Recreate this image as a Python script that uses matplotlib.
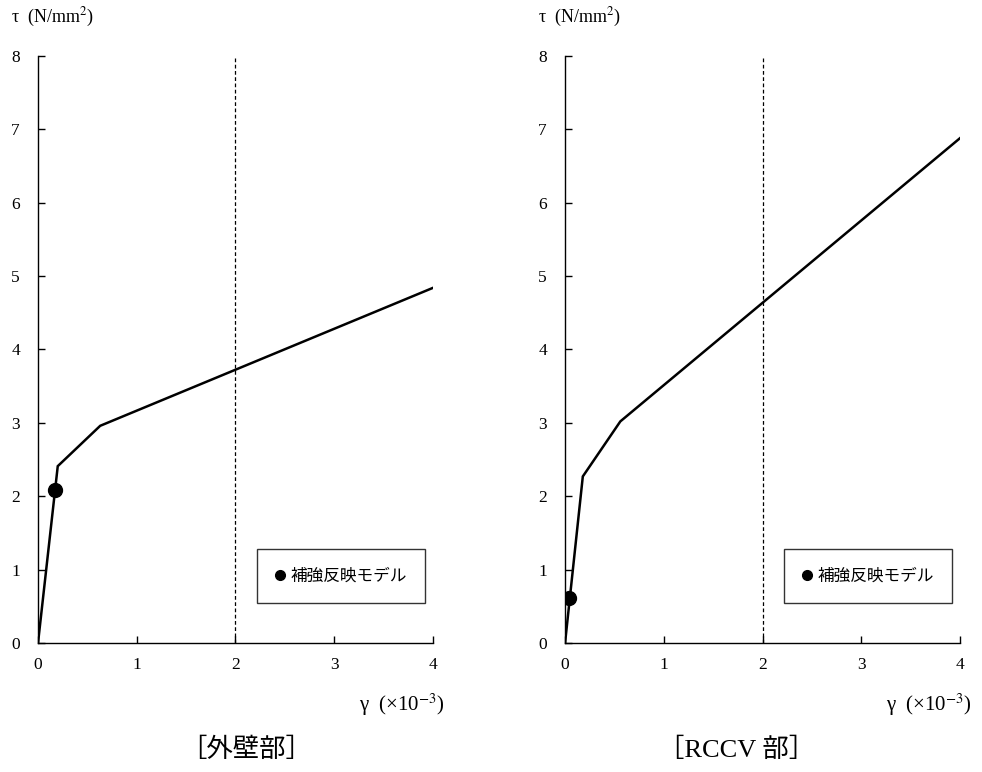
import matplotlib
matplotlib.use("Agg")
import matplotlib.pyplot as plt

plt.rcParams['font.family'] = ['Liberation Serif', 'Noto Sans CJK JP']
plt.rcParams['mathtext.fontset'] = 'stix'

# data
left_x = [0, 0.20, 0.63, 4.0]
left_y = [0, 2.41, 2.96, 4.84]
left_pt = (0.17, 2.08)
right_x = [0, 0.18, 0.56, 4.0]
right_y = [0, 2.27, 3.02, 6.88]
right_pt = (0.04, 0.61)
captions = ['［外壁部］', '［RCCV 部］']
caption_x = [0.527, 0.435]
legend_label = '補強反映モデル'
xticks = [0, 1, 2, 3, 4]
yticks = [0, 1, 2, 3, 4, 5, 6, 7, 8]

fig = plt.figure(figsize=(9.82, 7.72), dpi=100)
positions = [[0.0387, 0.1671, 0.4022, 0.7604], [0.5754, 0.1671, 0.4022, 0.7604]]
datas = [(left_x, left_y, left_pt), (right_x, right_y, right_pt)]

for pos, (xs, ys, pt), cap, cx in zip(positions, datas, captions, caption_x):
    ax = fig.add_axes(pos)
    ax.plot(xs, ys, color='black', lw=1.8, solid_joinstyle='miter')
    ax.plot([pt[0]], [pt[1]], 'o', color='black', markersize=10, label=legend_label, zorder=5)
    ax.axvline(2, color='black', lw=0.9, ls=(0, (3, 2)))
    ax.set_xlim(0, 4)
    ax.set_ylim(0, 8)
    ax.set_xticks(xticks)
    ax.set_yticks(yticks)
    for s in ['top', 'right']:
        ax.spines[s].set_visible(False)
    for s in ['left', 'bottom']:
        ax.spines[s].set_linewidth(1.0)
    ax.tick_params(direction='in', length=5, width=1.0, labelsize=12.5)
    ax.tick_params(axis='y', pad=13)
    ax.tick_params(axis='x', pad=10)
    leg = ax.legend(loc='lower right', bbox_to_anchor=(0.98, 0.068), handlelength=0.6, handletextpad=0.3,
                    frameon=True, fancybox=False, markerscale=0.7,
                    prop={'family': ['Noto Sans CJK JP'], 'size': 12},
                    borderpad=1.1, borderaxespad=0)
    leg.get_frame().set_edgecolor('black')
    leg.get_frame().set_linewidth(1.0)
    # labels
    ax.text(-0.068, 1.065, 'τ  (N/mm$^2$)', transform=ax.transAxes, fontsize=13, ha='left', va='center')
    ax.text(1.03, -0.105, 'γ  (×10$^{-3}$)', transform=ax.transAxes, fontsize=15, ha='right', va='center')
    ax.text(cx, -0.182, cap, transform=ax.transAxes, fontsize=19, ha='center', va='center')

fig.savefig('out.png', dpi=100)
